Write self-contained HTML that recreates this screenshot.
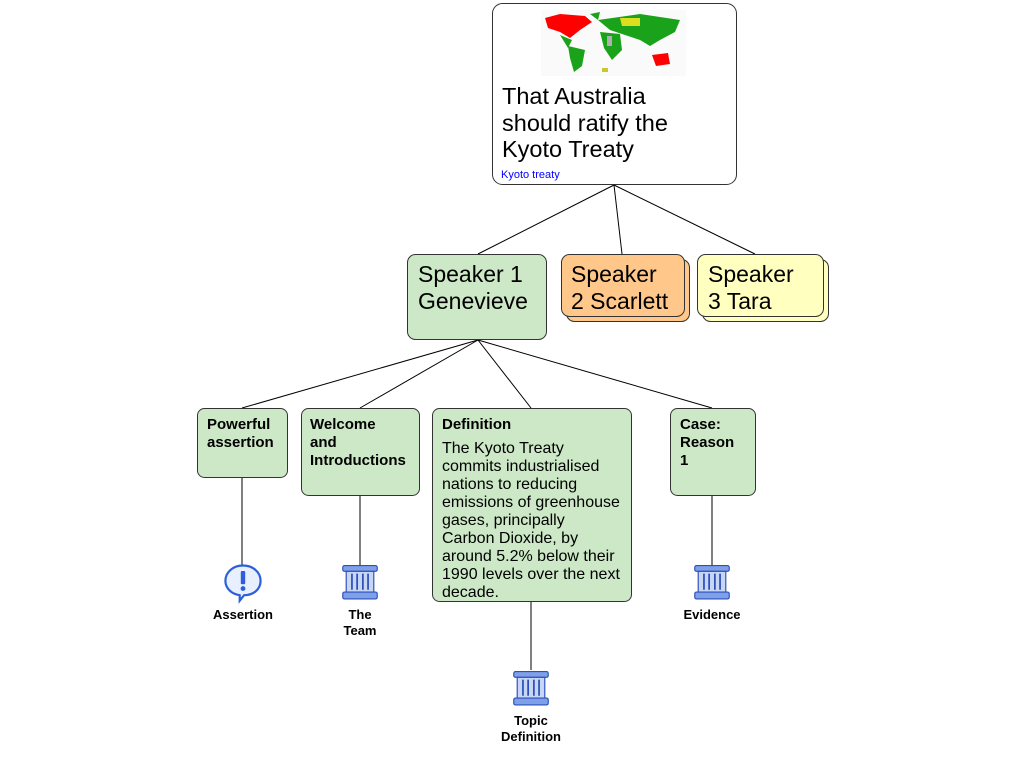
<!DOCTYPE html>
<html><head><meta charset="utf-8"><style>
html,body{margin:0;padding:0;background:#fff;}
svg{display:block;font-family:"Liberation Sans",Arial,sans-serif;}
</style></head><body>
<svg width="1024" height="768" viewBox="0 0 1024 768" xmlns="http://www.w3.org/2000/svg">
<defs>
<g id="pillar">
  <rect x="-15" y="-16" width="30" height="5" rx="1.5" fill="#7fa0e8" stroke="#2c4fb8" stroke-width="1"/>
  <rect x="-12" y="-11" width="24" height="18" fill="#c8d6f6" stroke="#2c4fb8" stroke-width="1"/>
  <line x1="-7" y1="-9" x2="-7" y2="5" stroke="#2c4fb8" stroke-width="1.5"/>
  <line x1="-2.5" y1="-9" x2="-2.5" y2="5" stroke="#2c4fb8" stroke-width="1.5"/>
  <line x1="2.5" y1="-9" x2="2.5" y2="5" stroke="#2c4fb8" stroke-width="1.5"/>
  <line x1="7" y1="-9" x2="7" y2="5" stroke="#2c4fb8" stroke-width="1.5"/>
  <rect x="-15" y="7" width="30" height="6" rx="1.5" fill="#7fa0e8" stroke="#2c4fb8" stroke-width="1"/>
</g>
</defs>
<g stroke="#000" stroke-width="1">
  <line x1="614" y1="185" x2="478" y2="254"/>
  <line x1="614" y1="185" x2="622" y2="254"/>
  <line x1="614" y1="185" x2="755" y2="254"/>
  <line x1="478" y1="340" x2="242" y2="408"/>
  <line x1="478" y1="340" x2="360" y2="408"/>
  <line x1="478" y1="340" x2="531" y2="408"/>
  <line x1="478" y1="340" x2="712" y2="408"/>
  <line x1="242" y1="477" x2="242" y2="565"/>
  <line x1="360" y1="495" x2="360" y2="565"/>
  <line x1="531" y1="601" x2="531" y2="670"/>
  <line x1="712" y1="495" x2="712" y2="565"/>
</g>
<rect x="492.5" y="3.5" width="244" height="181" rx="10" fill="#fff" stroke="#333"/>
<rect x="541" y="10" width="145" height="66" fill="#fafafa"/>
<g>
  <path d="M545 18 L560 14 L585 16 L592 22 L580 30 L570 38 L560 32 L548 28 Z" fill="#ff0000"/>
  <path d="M560 35 L572 40 L568 48 Z" fill="#1aa31a"/>
  <path d="M568 46 L585 50 L582 66 L574 72 L570 58 Z" fill="#1aa31a"/>
  <path d="M590 14 L600 12 L598 20 Z" fill="#1aa31a"/>
  <path d="M598 20 L640 14 L680 20 L675 32 L660 40 L650 46 L640 40 L625 35 L610 30 Z" fill="#1aa31a"/>
  <path d="M620 18 L640 18 L640 26 L622 26 Z" fill="#dede20"/>
  <path d="M600 32 L620 34 L622 50 L612 60 L604 48 Z" fill="#1aa31a"/>
  <path d="M607 36 L612 36 L612 46 L607 46 Z" fill="#b0b0b0"/>
  <path d="M652 55 L668 53 L670 64 L656 66 Z" fill="#ff0000"/>
  <rect x="602" y="68" width="6" height="4" fill="#c9c92a"/>
</g>
<text font-size="23.5" fill="#000">
  <tspan x="502" y="104">That Australia</tspan>
  <tspan x="502" y="131">should ratify the</tspan>
  <tspan x="502" y="157">Kyoto Treaty</tspan>
</text>
<text x="501" y="178" font-size="11" fill="#0000ff">Kyoto treaty</text>
<rect x="407.5" y="254.5" width="139" height="85" rx="8" fill="#cce8c6" stroke="#333"/>
<text font-size="23" fill="#000"><tspan x="418" y="282">Speaker 1</tspan><tspan x="418" y="309">Genevieve</tspan></text>
<rect x="566.5" y="259.5" width="123" height="62" rx="8" fill="#ffc88a" stroke="#333"/>
<rect x="561.5" y="254.5" width="123" height="62" rx="8" fill="#ffc88a" stroke="#333"/>
<text font-size="23" fill="#000"><tspan x="571" y="282">Speaker</tspan><tspan x="571" y="309">2 Scarlett</tspan></text>
<rect x="702.5" y="259.5" width="126" height="62" rx="8" fill="#ffffc0" stroke="#333"/>
<rect x="697.5" y="254.5" width="126" height="62" rx="8" fill="#ffffc0" stroke="#333"/>
<text font-size="23" fill="#000"><tspan x="708" y="282">Speaker</tspan><tspan x="708" y="309">3 Tara</tspan></text>
<g fill="#cce8c6" stroke="#333">
  <rect x="197.5" y="408.5" width="90" height="69" rx="7"/>
  <rect x="301.5" y="408.5" width="118" height="87" rx="7"/>
  <rect x="432.5" y="408.5" width="199" height="193" rx="7"/>
  <rect x="670.5" y="408.5" width="85" height="87" rx="7"/>
</g>
<g font-size="15" font-weight="bold" fill="#000">
  <text><tspan x="207" y="429">Powerful</tspan><tspan x="207" y="447">assertion</tspan></text>
  <text><tspan x="310" y="429">Welcome</tspan><tspan x="310" y="447">and</tspan><tspan x="310" y="465">Introductions</tspan></text>
  <text x="442" y="429">Definition</text>
  <text><tspan x="680" y="429">Case:</tspan><tspan x="680" y="447">Reason</tspan><tspan x="680" y="465">1</tspan></text>
</g>
<text font-size="16" fill="#000">
  <tspan x="442" y="453">The Kyoto Treaty</tspan>
  <tspan x="442" y="471">commits industrialised</tspan>
  <tspan x="442" y="489">nations to reducing</tspan>
  <tspan x="442" y="507">emissions of greenhouse</tspan>
  <tspan x="442" y="525">gases, principally</tspan>
  <tspan x="442" y="543">Carbon Dioxide, by</tspan>
  <tspan x="442" y="561">around 5.2% below their</tspan>
  <tspan x="442" y="579">1990 levels over the next</tspan>
  <tspan x="442" y="597">decade.</tspan>
</text>
<g transform="translate(243,582) scale(1.1)">
  <path d="M0 -15 C9 -15 16 -9 16 -1 C16 7 9 12 1 12 L-3 17 L-3 12 C-10 11 -16 6 -16 -1 C-16 -9 -9 -15 0 -15 Z" fill="#e8f0ff" stroke="#2c5fd8" stroke-width="2"/>
  <rect x="-2" y="-10" width="4" height="12" rx="1" fill="#2c5fd8"/>
  <circle cx="0" cy="6" r="2.2" fill="#2c5fd8"/>
</g>
<g transform="translate(360,584) scale(1.15)"><use href="#pillar"/></g>
<g transform="translate(712,584) scale(1.15)"><use href="#pillar"/></g>
<g transform="translate(531,690) scale(1.15)"><use href="#pillar"/></g>
<g font-size="13" font-weight="bold" fill="#000" text-anchor="middle">
  <text x="243" y="619">Assertion</text>
  <text x="360" y="619">The</text>
  <text x="360" y="635">Team</text>
  <text x="712" y="619">Evidence</text>
  <text x="531" y="725">Topic</text>
  <text x="531" y="741">Definition</text>
</g>
</svg>
</body></html>
